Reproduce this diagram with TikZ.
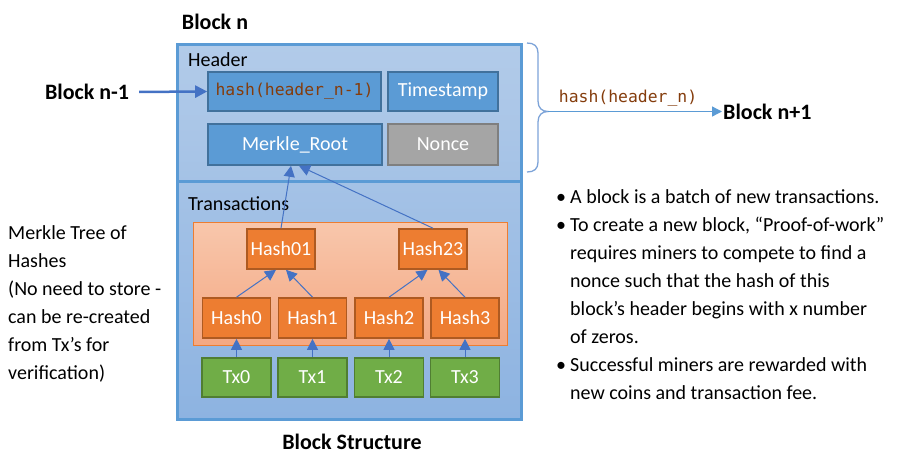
\documentclass[tikz,border=0pt]{standalone}
\usepackage{fontspec}
\setmainfont{Carlito}
\newfontfamily\codefont{DejaVu Sans Mono}
\usetikzlibrary{positioning,
	calc,
	arrows.meta}
\definecolor{blockblue}{HTML}{5B9BD5}
\definecolor{blocktop}{HTML}{B2CBE9}
\definecolor{blockbottom}{HTML}{8DB3E1}
\definecolor{fieldedge}{HTML}{41719C}
\definecolor{linkblue}{HTML}{4472C4}
\definecolor{bracecol}{HTML}{7DA3D8}
\definecolor{codebrown}{HTML}{843C0C}
\definecolor{hashorange}{HTML}{ED7D31}
\definecolor{hashedge}{HTML}{AE5A21}
\definecolor{treetop}{HTML}{F8C7AC}
\definecolor{treebottom}{HTML}{F4A883}
\definecolor{txgreen}{HTML}{70AD47}
\definecolor{txedge}{HTML}{507E32}
\definecolor{noncegray}{HTML}{A5A5A5}
\definecolor{nonceedge}{HTML}{7F7F7F}
\newcommand{\notebullet}{\makebox[14pt][l]{\textbullet}}
\newcommand{\noteindent}{\hspace*{14pt}}
\tikzset{
	txt/.style={font=\fontsize{20}{28}\selectfont, inner sep=0pt},
	blocklabel/.style={font=\fontsize{22}{26}\selectfont\bfseries, inner sep=1pt},
	codetxt/.style={text=codebrown, font=\codefont\fontsize{16.4}{20}\selectfont},
	field/.style={draw=fieldedge, fill=blockblue, line width=1.6pt, text=white,
		inner sep=0pt, minimum height=39pt, font=\fontsize{20}{24}\selectfont},
	hashbox/.style={field, draw=hashedge, fill=hashorange, minimum width=68pt, minimum height=40pt},
	txbox/.style={field, draw=txedge, fill=txgreen, minimum width=69pt, minimum height=39pt},
	link/.style={draw=linkblue, line width=1pt, -{Triangle[length=11pt,width=11pt]}}
}

\begin{document}
\begin{tikzpicture}[x=1pt,y=-1pt]
	\useasboundingbox (0,0) rectangle (915,464);
	\draw[draw=blockblue, line width=3pt, top color=blocktop, bottom color=blockbottom] (177,44) rectangle (521,419);
	\draw[blockblue, line width=2.5pt] (177,181.5) -- (521,181.5);
	\draw[draw=hashorange, line width=0.8pt, top color=treetop, bottom color=treebottom] (193,222) rectangle (507,345);

	\node[blocklabel] (blockn) at (215,22) {Block n};
	\node[blocklabel] (structure) at (352,442) {Block Structure};
	\node[txt, anchor=base west] (headerlbl) at (188,66.5) {Header};
	\node[txt, anchor=base west] (txlbl) at (188,210) {Transactions};

	\node[field, codetxt, minimum width=173pt] (prevhash) at (294.5,91.5) {hash(header\_n-1)};
	\node[field, minimum width=110pt] (timestamp) at (443,91.5) {Timestamp};
	\node[field, minimum width=174pt, minimum height=41pt] (merkle) at (295,144.5) {Merkle\_Root};
	\node[field, draw=nonceedge, fill=noncegray, minimum width=110pt, minimum height=41pt] (nonce) at (443,144.5) {Nonce};

	\node[hashbox] (hash01) at (281,249) {Hash01};
	\node[hashbox] (hash23) at (433,249) {Hash23};
	\foreach \i/\x in {0/236.5,1/312.5,2/389,3/465} {
		\node[hashbox] (hash\i) at (\x,318) {Hash\i};
		\node[txbox] (tx\i) at (\x,377.5) {Tx\i};
		\draw[link] (tx\i.north) -- (hash\i.south);
	}
	\draw[link] (hash0.north) -- ([xshift=-5pt]hash01.south);
	\draw[link] (hash1.north) -- ([xshift=5pt]hash01.south);
	\draw[link] (hash2.north) -- ([xshift=-5.5pt]hash23.south);
	\draw[link] (hash3.north) -- ([xshift=5.5pt]hash23.south);
	\draw[link] (hash01.north) -- ([xshift=-4pt]merkle.south);
	\draw[link] (hash23.north) -- ([xshift=4pt]merkle.south);

	\node[blocklabel] (prevblock) at (87,92) {Block n-1};
	\draw[draw=linkblue, line width=2.5pt, -{Triangle[length=12pt,width=12pt]}, shorten <=9pt] (prevblock.east) -- (prevhash.west);

	\draw[bracecol, line width=1.3pt] (527,43) .. controls (534,43) and (538,46) .. (538,53) -- (538,101)
		.. controls (538,108) and (542,111.5) .. (548,111.5)
		.. controls (542,111.5) and (538,115) .. (538,122) -- (538,162)
		.. controls (538,169) and (534,172) .. (527,172);
	\coordinate (bracetip) at (548,111.5);
	\node[blocklabel, anchor=west] (nextblock) at (722,111.5) {Block n+1};
	\draw[draw=blockblue, line width=1.3pt, -{Triangle[length=10pt,width=10pt]}] (bracetip) -- (nextblock.west)
		node[pos=0.46, above=4pt, inner sep=0pt, codetxt] (nexthash) {hash(header\_n)};

	\node[txt, anchor=north west, align=left] (merklenote) at (8,225.5) {Merkle Tree of\\Hashes\\(No need to store -\\can be re-created\\from Tx’s for\\verification)};
	\node[txt, anchor=north west, align=left] (notes) at (556,189) {\notebullet A block is a batch of new transactions.\\
		\notebullet To create a new block, “Proof-of-work”\\
		\noteindent requires miners to compete to find a\\
		\noteindent nonce such that the hash of this\\
		\noteindent block’s header begins with x number\\
		\noteindent of zeros.\\
		\notebullet Successful miners are rewarded with\\
		\noteindent new coins and transaction fee.};
\end{tikzpicture}
\end{document}
